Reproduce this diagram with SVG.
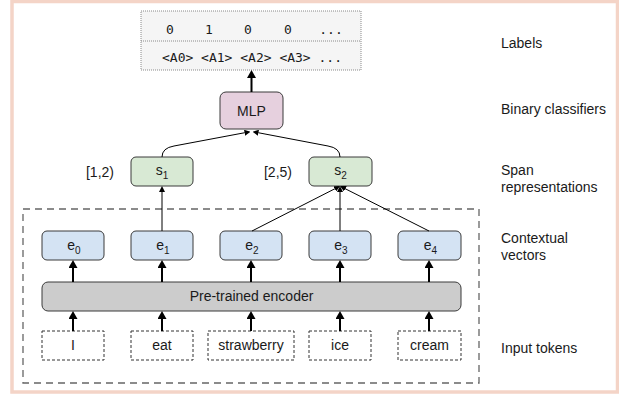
<svg xmlns="http://www.w3.org/2000/svg" width="619" height="394" viewBox="0 0 619 394">
<style>
text{font-family:"Liberation Sans",Arial,sans-serif;font-size:14px;fill:#1a1a1a}
.mono{font-family:"DejaVu Sans Mono","Liberation Mono",monospace;font-size:13px;fill:#1a1a1a}
.c{text-anchor:middle}
.e{fill:#d4e3f3;stroke:#3a3a3a;stroke-width:1}
.s{fill:#d8e9d4;stroke:#3a3a3a;stroke-width:1}
.tok{fill:#fff;stroke:#333;stroke-width:1;stroke-dasharray:3 2}
.thick{stroke:#000;stroke-width:2;fill:none;marker-end:url(#ah)}
.thin{stroke:#000;stroke-width:1;fill:none;marker-end:url(#at)}
.sub{font-size:10px}
</style>
<defs>
<marker id="ah" markerUnits="userSpaceOnUse" viewBox="0 0 8 9" markerWidth="8" markerHeight="9" refX="5" refY="4.5" orient="auto"><path d="M0,0 L8,4.5 L0,9 z" fill="#000"/></marker>
<marker id="at" markerUnits="userSpaceOnUse" viewBox="0 0 6 6" markerWidth="6" markerHeight="6" refX="4" refY="3" orient="auto"><path d="M0,0 L6,3 L0,6 z" fill="#000"/></marker>
</defs>
<rect x="0" y="0" width="619" height="394" fill="#fff"/>
<rect x="12" y="1.5" width="605.5" height="390.5" fill="#fff" stroke="#f4d4c7" stroke-width="3.5"/>

<g id="encoder-region">
<rect x="23" y="209" width="456" height="174" fill="none" stroke="#666" stroke-width="1.3" stroke-dasharray="7 5"/>
</g>

<g id="labels-box">
<rect x="141" y="11" width="220" height="59" fill="#f5f5f5" stroke="#8a8a8a" stroke-width="1" stroke-dasharray="1 1"/>
<line x1="141" y1="41" x2="361" y2="41" stroke="#8a8a8a" stroke-width="1" stroke-dasharray="1 1"/>
<text class="mono c" x="170" y="34">0</text>
<text class="mono c" x="209" y="34">1</text>
<text class="mono c" x="248" y="34">0</text>
<text class="mono c" x="288" y="34">0</text>
<text class="mono c" x="331" y="34">...</text>
<text class="mono c" x="252" y="62">&lt;A0&gt; &lt;A1&gt; &lt;A2&gt; &lt;A3&gt; ...</text>
</g>

<g id="mlp">
<rect x="220" y="92" width="63" height="37" rx="6" fill="#e6d0de" stroke="#3a3a3a" stroke-width="1"/>
<text class="c" x="251.5" y="115.5">MLP</text>
</g>

<g id="s1">
<rect class="s" x="131" y="157" width="62" height="29" rx="5"/>
<text class="c" x="162" y="175">s<tspan class="sub" dy="4">1</tspan></text>
</g>
<g id="s2">
<rect class="s" x="309" y="157" width="63" height="29" rx="5"/>
<text class="c" x="340.5" y="175">s<tspan class="sub" dy="4">2</tspan></text>
</g>
<text class="c" x="100" y="177">[1,2)</text>
<text class="c" x="278" y="177">[2,5)</text>

<g id="e0"><rect class="e" x="42" y="231" width="62" height="29" rx="5"/><text class="c" x="74" y="250">e<tspan class="sub" dy="4">0</tspan></text></g>
<g id="e1"><rect class="e" x="131" y="231" width="62" height="29" rx="5"/><text class="c" x="163" y="250">e<tspan class="sub" dy="4">1</tspan></text></g>
<g id="e2"><rect class="e" x="220" y="231" width="62" height="29" rx="5"/><text class="c" x="252" y="250">e<tspan class="sub" dy="4">2</tspan></text></g>
<g id="e3"><rect class="e" x="309" y="231" width="62" height="29" rx="5"/><text class="c" x="341" y="250">e<tspan class="sub" dy="4">3</tspan></text></g>
<g id="e4"><rect class="e" x="398" y="231" width="63" height="29" rx="5"/><text class="c" x="430.5" y="250">e<tspan class="sub" dy="4">4</tspan></text></g>

<g id="pretrained-encoder">
<rect x="42" y="282" width="419" height="29" rx="6" fill="#cccccc" stroke="#3a3a3a" stroke-width="1"/>
<text class="c" x="251.5" y="301">Pre-trained encoder</text>
</g>

<g id="tok-I"><rect class="tok" x="42" y="331" width="62" height="29"/><text class="c" x="73" y="350">I</text></g>
<g id="tok-eat"><rect class="tok" x="131" y="331" width="62" height="29"/><text class="c" x="162" y="350">eat</text></g>
<g id="tok-strawberry"><rect class="tok" x="208" y="331" width="86" height="29"/><text class="c" x="251" y="350">strawberry</text></g>
<g id="tok-ice"><rect class="tok" x="309" y="331" width="62" height="29"/><text class="c" x="340" y="350">ice</text></g>
<g id="tok-cream"><rect class="tok" x="398" y="331" width="63" height="29"/><text class="c" x="429.5" y="350">cream</text></g>

<g id="row-labels">
<text x="501" y="48">Labels</text>
<text x="501" y="114">Binary classifiers</text>
<text x="501" y="175">Span</text>
<text x="501" y="192">representations</text>
<text x="501" y="243">Contextual</text>
<text x="501" y="260">vectors</text>
<text x="501" y="353">Input tokens</text>
</g>

<g id="connectors">
<line class="thick" x1="251.5" y1="92" x2="251.5" y2="73"/>
<path class="thin" d="M162,157 Q162,148 174,146 L248.5,132"/>
<path class="thin" d="M340,157 Q340,148 328,146 L254.5,132"/>
<line class="thin" x1="162" y1="231" x2="162" y2="188"/>
<line class="thin" x1="252" y1="231" x2="338.3" y2="187"/>
<line class="thin" x1="340" y1="231" x2="340" y2="188"/>
<line class="thin" x1="429" y1="231" x2="341.8" y2="187"/>
<line class="thick" x1="73" y1="282" x2="73" y2="263"/>
<line class="thick" x1="162" y1="282" x2="162" y2="263"/>
<line class="thick" x1="251" y1="282" x2="251" y2="263"/>
<line class="thick" x1="340" y1="282" x2="340" y2="263"/>
<line class="thick" x1="429" y1="282" x2="429" y2="263"/>
<line class="thick" x1="73" y1="331" x2="73" y2="314"/>
<line class="thick" x1="162" y1="331" x2="162" y2="314"/>
<line class="thick" x1="251" y1="331" x2="251" y2="314"/>
<line class="thick" x1="340" y1="331" x2="340" y2="314"/>
<line class="thick" x1="429" y1="331" x2="429" y2="314"/>
</g>
</svg>
